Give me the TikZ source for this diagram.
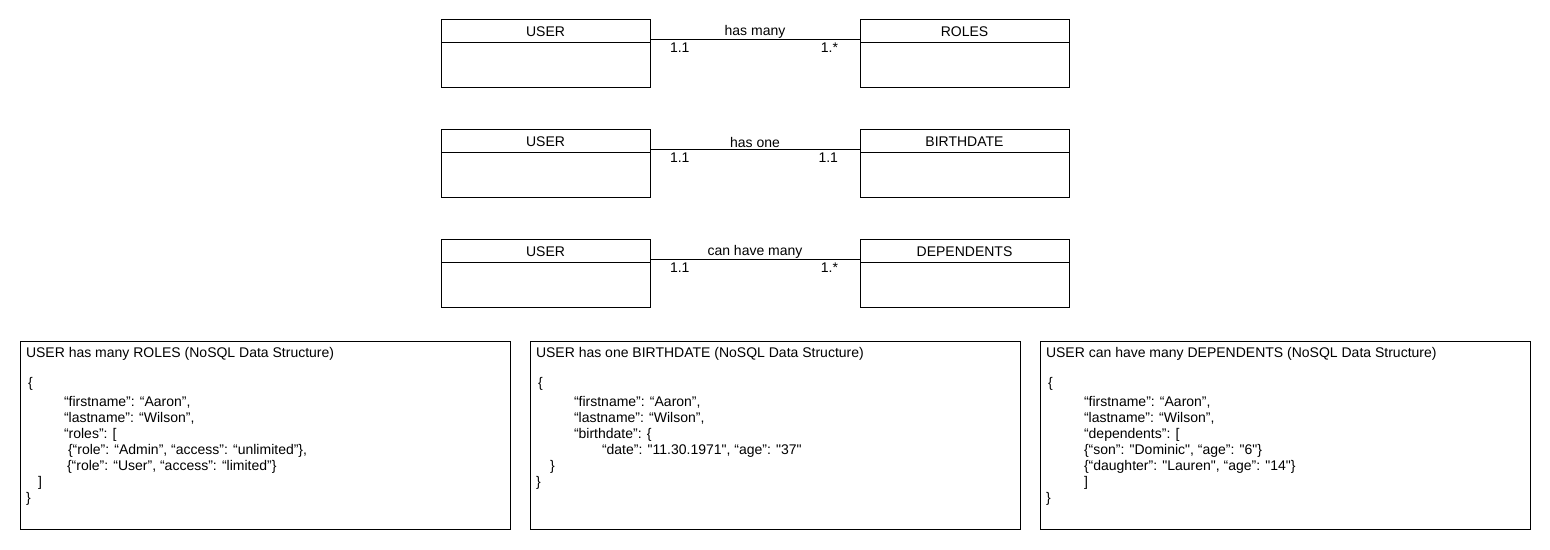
\documentclass[tikz,border=0pt]{standalone}
\usepackage{fontspec}
\setmainfont{Liberation Sans}[Ligatures=TeXOff]
\usetikzlibrary{positioning}

\tikzset{
  enthead/.style={draw, line width=0.5pt, minimum width=104.5pt, minimum height=11.5pt},
  entbody/.style={draw, line width=0.5pt, minimum width=104.5pt, minimum height=22.5pt},
  assoc/.style={line width=0.5pt},
  jsonbox/.style={draw, line width=0.5pt, anchor=north west, minimum width=245pt, minimum height=94pt},
  jsontext/.style={anchor=north west, align=left, font=\fontsize{7}{8}\selectfont}
}

\begin{document}
\begin{tikzpicture}[x=0.5pt,y=-0.5pt,inner sep=0pt,outer sep=0pt,
    every node/.style={font=\fontsize{7}{8}\selectfont}]
  \useasboundingbox (0,0) rectangle (1550,550);
  %
  % USER -- ROLES
  \node[enthead] (user1) at (545.5,31.5) {USER};
  \node[entbody, below=0pt of user1] (user1b) {};
  \node[enthead, right=105pt of user1] (roles) {ROLES};
  \node[entbody, below=0pt of roles] (rolesb) {};
  \draw[assoc] ([yshift=1.5pt]user1.south east) -- ([yshift=1.5pt]roles.south west)
    node[midway, above=1pt] (has_many) {has many}
    node[pos=0, anchor=north west, xshift=10pt, yshift=-1.5pt] (m11a) {1.1}
    node[pos=1, anchor=north east, xshift=-11pt, yshift=-1.5pt] (m1na) {1.*};
  %
  % USER -- BIRTHDATE
  \node[enthead] (user2) at (545.5,141.5) {USER};
  \node[entbody, below=0pt of user2] (user2b) {};
  \node[enthead, right=105pt of user2] (birth) {BIRTHDATE};
  \node[entbody, below=0pt of birth] (birthb) {};
  \draw[assoc] ([yshift=1.5pt]user2.south east) -- ([yshift=1.5pt]birth.south west)
    node[midway, above=1pt] (has_one) {has one}
    node[pos=0, anchor=north west, xshift=10pt, yshift=-1.5pt] (m11b) {1.1}
    node[pos=1, anchor=north east, xshift=-11pt, yshift=-1.5pt] (m11c) {1.1};
  %
  % USER -- DEPENDENTS
  \node[enthead] (user3) at (545.5,251.5) {USER};
  \node[entbody, below=0pt of user3] (user3b) {};
  \node[enthead, right=105pt of user3] (deps) {DEPENDENTS};
  \node[entbody, below=0pt of deps] (depsb) {};
  \draw[assoc] ([yshift=1.5pt]user3.south east) -- ([yshift=1.5pt]deps.south west)
    node[midway, above=1pt] (can_have) {can have many}
    node[pos=0, anchor=north west, xshift=10pt, yshift=-1.5pt] (m11d) {1.1}
    node[pos=1, anchor=north east, xshift=-11pt, yshift=-1.5pt] (m1nb) {1.*};
  %
  % NoSQL structures
  \node[jsonbox] (json_roles) at (20,341) {};
  \node[jsontext] (json_roles_txt) at ([xshift=3pt,yshift=-3pt]json_roles.north west)
  {USER has many ROLES (NoSQL Data Structure)\\[7pt]
   \hspace*{1pt}\{\\[1.5pt]
   \hspace*{19pt}“firstname”: “Aaron”,\\
   \hspace*{19pt}“lastname”: “Wilson”,\\
   \hspace*{19pt}“roles”: [\\
   \hspace*{21pt}\{“role”: “Admin”, “access”: “unlimited”\},\\
   \hspace*{20.5pt}\{“role”: “User”, “access”: “limited”\}\\
   \hspace*{6pt}]\\
   \}};
  %
  \node[jsonbox] (json_birth) at (530,341) {};
  \node[jsontext] (json_birth_txt) at ([xshift=3pt,yshift=-3pt]json_birth.north west)
  {USER has one BIRTHDATE (NoSQL Data Structure)\\[7pt]
   \hspace*{1pt}\{\\[1.5pt]
   \hspace*{19pt}“firstname”: “Aaron”,\\
   \hspace*{19pt}“lastname”: “Wilson”,\\
   \hspace*{19pt}“birthdate”: \{\\
   \hspace*{33pt}“date”: "11.30.1971", “age”: "37"\\
   \hspace*{7pt}\}\\
   \}};
  %
  \node[jsonbox] (json_deps) at (1040,341) {};
  \node[jsontext] (json_deps_txt) at ([xshift=3pt,yshift=-3pt]json_deps.north west)
  {USER can have many DEPENDENTS (NoSQL Data Structure)\\[7pt]
   \hspace*{1pt}\{\\[1.5pt]
   \hspace*{19pt}“firstname”: “Aaron”,\\
   \hspace*{19pt}“lastname”: “Wilson”,\\
   \hspace*{19pt}“dependents”: [\\
   \hspace*{19pt}\{“son”: "Dominic", “age”: "6"\}\\
   \hspace*{19pt}\{“daughter”: "Lauren", “age”: "14"\}\\
   \hspace*{19pt}]\\
   \}};
\end{tikzpicture}
\end{document}
